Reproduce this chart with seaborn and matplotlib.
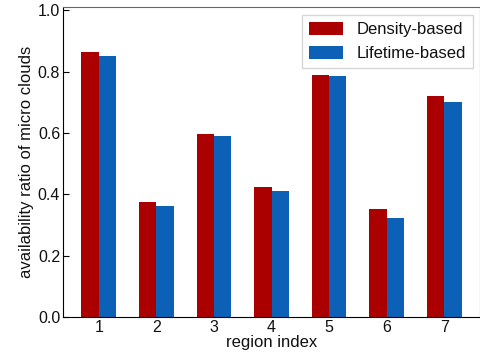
import pandas as pd
import numpy as np
import seaborn as sns
import matplotlib.pyplot as plt

# Data
regions = ['1', '2', '3', '4', '5', '6', '7']
density = [0.864, 0.374, 0.596, 0.423, 0.789, 0.351, 0.720]
lifetime = [0.851, 0.361, 0.591, 0.410, 0.786, 0.322, 0.701]
methods = ['Density-based', 'Lifetime-based']
colors = ['#aa0000', '#0c60b5']

df = pd.DataFrame({
    'region': regions * 2,
    'ratio': density + lifetime,
    'method': [methods[0]] * len(regions) + [methods[1]] * len(regions),
})

sns.set_style('white')
plt.rcParams['font.family'] = ['Liberation Sans', 'DejaVu Sans']
plt.rcParams['text.color'] = '#111111'
plt.rcParams['axes.labelcolor'] = '#111111'
plt.rcParams['xtick.color'] = 'black'
plt.rcParams['ytick.color'] = 'black'

fig, ax = plt.subplots(figsize=(4.81, 3.53), dpi=100)
sns.barplot(data=df, x='region', y='ratio', hue='method', palette=colors,
            width=0.6, saturation=1, linewidth=0, ax=ax)

ax.set_xlim(-0.62, 6.62)
ax.set_ylim(0, 1.01)
ax.set_yticks([0.0, 0.2, 0.4, 0.6, 0.8, 1.0])
ax.set_yticklabels(['0.0', '0.2', '0.4', '0.6', '0.8', '1.0'])
ax.set_xlabel('region index', fontsize=12, labelpad=0)
ax.set_ylabel('availability ratio of micro clouds', fontsize=12, labelpad=3)
ax.tick_params(axis='both', direction='in', length=4, labelsize=11.5,
               labelcolor='#111111', left=True, bottom=True)
ax.tick_params(axis='x', pad=2.5)
ax.tick_params(axis='y', pad=2)

for side in ['left', 'bottom']:
    ax.spines[side].set_color('black')
for side in ['top', 'right']:
    ax.spines[side].set_color('#666666')

leg = ax.legend(loc='upper right', fontsize=12, frameon=True, fancybox=False,
                edgecolor='#cccccc', handlelength=2.05, handleheight=0.8,
                handletextpad=0.85, borderpad=0.4, labelspacing=0.55,
                borderaxespad=0, bbox_to_anchor=(0.983, 0.974))
leg.get_frame().set_linewidth(1.0)

fig.subplots_adjust(left=0.131, right=0.998, top=0.98, bottom=0.102)
fig.savefig('out.png', dpi=100)
